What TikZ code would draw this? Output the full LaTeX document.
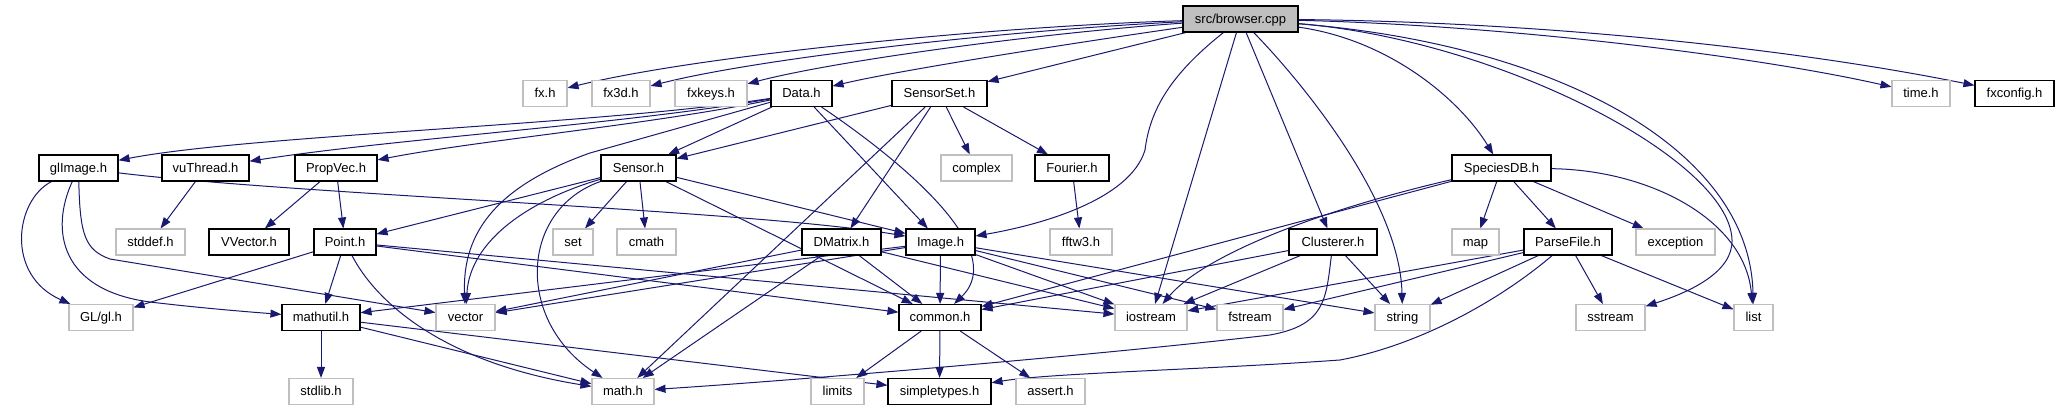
\documentclass[tikz,border=0pt]{standalone}
\usepackage{fontspec}
\setmainfont{Liberation Sans}
\usetikzlibrary{arrows.meta}
\definecolor{edgec}{HTML}{191970}
\definecolor{sysc}{HTML}{BFBFBF}
\definecolor{rootc}{HTML}{BFBFBF}
\pgfdeclarelayer{bg}
\pgfsetlayers{bg,main}
\tikzset{
 box/.style={rectangle, minimum height=26pt, inner sep=0pt, text height=9.5pt, text depth=0.7pt, fill=white, text=black, font=\fontsize{13}{15}\selectfont},
 doc/.style={box, draw=black, line width=1.1pt, minimum width=#1pt},
 sys/.style={box, draw=sysc, line width=1.1pt, minimum width=#1pt},
 root/.style={box, draw=black, fill=rootc, line width=1.1pt, minimum width=#1pt},
 e/.style={draw=edgec, line width=1pt, -{Triangle[length=11pt,width=8pt]}},
}
\begin{document}
\begin{tikzpicture}[x=1pt,y=1pt]
\useasboundingbox (0,0) rectangle (2059,-411);
% row 0
\node[root=115] (browser) at (1240.5,-19) {src/browser.cpp};
% row 1
\node[sys=44] (fxh) at (545,-93.5) {fx.h};
\node[sys=58] (fx3d) at (621,-93.5) {fx3d.h};
\node[sys=72] (fxkeys) at (711,-93.5) {fxkeys.h};
\node[doc=61] (data) at (801.5,-93.5) {Data.h};
\node[doc=95] (sensorset) at (939.5,-93.5) {SensorSet.h};
\node[sys=58] (timeh) at (1921,-93.5) {time.h};
\node[doc=79] (fxconfig) at (2014.5,-93.5) {fxconfig.h};
% row 2
\node[doc=79] (glimage) at (78.5,-168) {glImage.h};
\node[doc=87] (vuthread) at (205.5,-168) {vuThread.h};
\node[doc=82] (propvec) at (336,-168) {PropVec.h};
\node[doc=75] (sensor) at (638.5,-168) {Sensor.h};
\node[sys=71] (complex) at (976.5,-168) {complex};
\node[doc=74] (fourier) at (1072,-168) {Fourier.h};
\node[doc=99] (speciesdb) at (1501.5,-168) {SpeciesDB.h};
% row 3
\node[sys=69] (stddef) at (150.5,-242) {stddef.h};
\node[doc=80] (vvector) at (249,-242) {VVector.h};
\node[doc=62] (point) at (345,-242) {Point.h};
\node[sys=40] (set) at (573,-242) {set};
\node[sys=59] (cmath) at (646.5,-242) {cmath};
\node[doc=79] (dmatrix) at (841.5,-242) {DMatrix.h};
\node[doc=69] (image) at (940.5,-242) {Image.h};
\node[sys=62] (fftw) at (1081,-242) {fftw3.h};
\node[doc=88] (clusterer) at (1333,-242) {Clusterer.h};
\node[sys=47] (map) at (1475.5,-242) {map};
\node[doc=88] (parsefile) at (1568,-242) {ParseFile.h};
\node[sys=79] (exception) at (1675.5,-242) {exception};
% row 4
\node[sys=64] (gl) at (101,-317.5) {GL/gl.h};
\node[doc=78] (mathutil) at (321,-317.5) {mathutil.h};
\node[sys=59] (vector) at (465.5,-317.5) {vector};
\node[doc=82] (common) at (940,-317.5) {common.h};
\node[sys=72] (iostream) at (1151,-317.5) {iostream};
\node[sys=66] (fstream) at (1250,-317.5) {fstream};
\node[sys=55] (string) at (1402.5,-317.5) {string};
\node[sys=69] (sstream) at (1610.5,-317.5) {sstream};
\node[sys=39] (list) at (1753.5,-317.5) {list};
% row 5
\node[sys=64] (stdlib) at (321,-391.5) {stdlib.h};
\node[sys=62] (math) at (623,-391.5) {math.h};
\node[sys=53] (limits) at (837.5,-391.5) {limits};
\node[doc=103] (simpletypes) at (939.5,-391.5) {simpletypes.h};
\node[sys=69] (assert) at (1050.5,-391.5) {assert.h};

\begin{pgfonlayer}{bg}
\fill[white] (0,0) rectangle (2059,-411);
% browser.cpp
\draw[e] (browser) .. controls (1000,-26) and (700,-55) .. (fxh);
\draw[e] (browser) .. controls (1010,-30) and (760,-58) .. (fx3d);
\draw[e] (browser) .. controls (1030,-34) and (830,-62) .. (fxkeys);
\draw[e] (browser) .. controls (1080,-42) and (900,-70) .. (data);
\draw[e] (browser) -- (sensorset);
\draw[e] (browser) .. controls (1170,-75) and (1150,-110) .. (1145,-150) .. controls (1130,-200) and (1040,-225) .. (image);
\draw[e] (browser) -- (iostream);
\draw[e] (browser) -- (clusterer);
\draw[e] (browser) .. controls (1300,-80) and (1400,-200) .. (string);
\draw[e] (browser) .. controls (1390,-40) and (1460,-100) .. (speciesdb);
\draw[e] (browser) .. controls (1500,-40) and (1730,-160) .. (1732,-240) .. controls (1733,-272) and (1690,-292) .. (sstream);
\draw[e] (browser) .. controls (1560,-45) and (1750,-150) .. (list);
\draw[e] (browser) .. controls (1500,-25) and (1750,-55) .. (timeh);
\draw[e] (browser) .. controls (1550,-22) and (1800,-50) .. (fxconfig);
% Data.h
\draw[e] (data) .. controls (600,-125) and (250,-135) .. (glimage);
\draw[e] (data) .. controls (620,-125) and (400,-138) .. (vuthread);
\draw[e] (data) .. controls (650,-125) and (480,-140) .. (propvec);
\draw[e] (data) -- (sensor);
\draw[e] (data) -- (590,-153) .. controls (500,-185) and (462,-230) .. (vector);
\draw[e] (data) -- (image);
\draw[e] (data) .. controls (900,-160) and (1010,-250) .. (common);
% SensorSet.h
\draw[e] (sensorset) -- (sensor);
\draw[e] (sensorset) -- (math);
\draw[e] (sensorset) -- (dmatrix);
\draw[e] (sensorset) -- (complex);
\draw[e] (sensorset) -- (fourier);
% glImage.h
\draw[e] (glimage) .. controls (15,-200) and (5,-275) .. (gl);
\draw[e] (glimage) .. controls (50,-230) and (60,-290) .. (150,-302) .. controls (200,-308) and (250,-312) .. (mathutil);
\draw[e] (glimage) .. controls (80,-235) and (85,-250) .. (110,-259) -- (vector);
\draw[e] (glimage) .. controls (300,-195) and (750,-210) .. (image);
% vuThread.h, PropVec.h, Fourier.h
\draw[e] (vuthread) -- (stddef);
\draw[e] (propvec) -- (vvector);
\draw[e] (propvec) -- (point);
\draw[e] (fourier) -- (fftw);
% Sensor.h
\draw[e] (sensor) -- (point);
\draw[e] (sensor) .. controls (530,-200) and (470,-240) .. (vector);
\draw[e] (sensor) .. controls (520,-210) and (515,-320) .. (math);
\draw[e] (sensor) -- (set);
\draw[e] (sensor) -- (cmath);
\draw[e] (sensor) -- (image);
\draw[e] (sensor) -- (common);
% SpeciesDB.h
\draw[e] (speciesdb) -- (common);
\draw[e] (speciesdb) .. controls (1300,-215) and (1200,-260) .. (iostream);
\draw[e] (speciesdb) -- (map);
\draw[e] (speciesdb) -- (parsefile);
\draw[e] (speciesdb) -- (exception);
\draw[e] (speciesdb) .. controls (1650,-170) and (1745,-220) .. (list);
% Point.h
\draw[e] (point) -- (gl);
\draw[e] (point) -- (mathutil);
\draw[e] (point) .. controls (375,-300) and (440,-362) .. (math);
\draw[e] (point) -- (common);
\draw[e] (point) -- (iostream);
% DMatrix.h
\draw[e] (dmatrix) -- (vector);
\draw[e] (dmatrix) -- (math);
\draw[e] (dmatrix) -- (common);
\draw[e] (dmatrix) -- (iostream);
% Image.h
\draw[e] (image) -- (mathutil);
\draw[e] (image) -- (vector);
\draw[e] (image) -- (common);
\draw[e] (image) -- (iostream);
\draw[e] (image) -- (fstream);
\draw[e] (image) -- (string);
% Clusterer.h
\draw[e] (clusterer) -- (common);
\draw[e] (clusterer) -- (iostream);
\draw[e] (clusterer) -- (string);
\draw[e] (clusterer) .. controls (1326,-300) and (1325,-325) .. (1270,-335) .. controls (1100,-355) and (800,-380) .. (math);
% ParseFile.h
\draw[e] (parsefile) -- (iostream);
\draw[e] (parsefile) -- (fstream);
\draw[e] (parsefile) -- (string);
\draw[e] (parsefile) -- (sstream);
\draw[e] (parsefile) -- (list);
\draw[e] (parsefile) .. controls (1500,-300) and (1420,-345) .. (1340,-360) .. controls (1200,-370) and (1050,-373) .. (simpletypes);
% mathutil.h
\draw[e] (mathutil) -- (stdlib);
\draw[e] (mathutil) -- (math);
\draw[e] (mathutil) -- (simpletypes);
% common.h
\draw[e] (common) -- (limits);
\draw[e] (common) -- (simpletypes);
\draw[e] (common) -- (assert);
\end{pgfonlayer}
\end{tikzpicture}
\end{document}
